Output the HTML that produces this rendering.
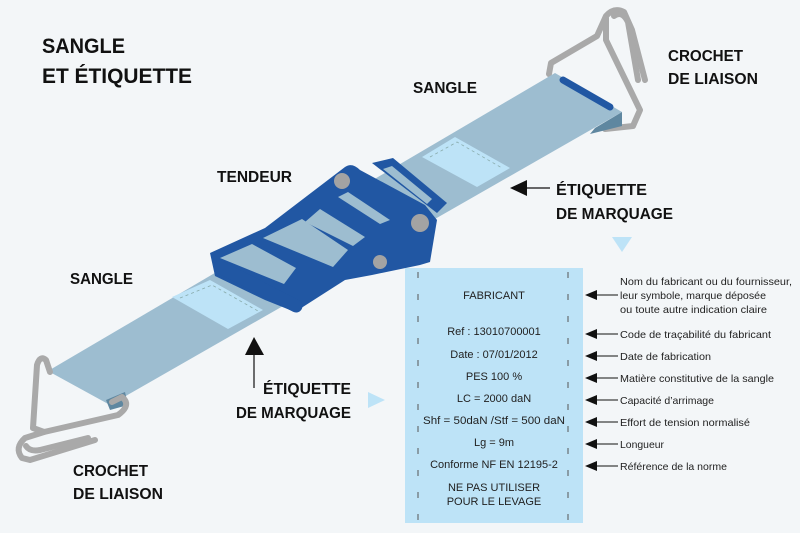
<!DOCTYPE html>
<html><head><meta charset="utf-8"><style>
html,body{margin:0;padding:0;background:#f3f6f8;}
svg{display:block;}
text{font-family:"Liberation Sans",sans-serif;}
.b{font-weight:bold;fill:#111;}
.t{font-size:11px;fill:#222;}
.d{font-size:10.5px;fill:#222;}
</style></head><body>
<svg width="800" height="533" viewBox="0 0 800 533" xmlns="http://www.w3.org/2000/svg">
<rect width="800" height="533" fill="#f3f6f8"/>
<text class="b" x="42" y="53" font-size="21" textLength="83" lengthAdjust="spacingAndGlyphs">SANGLE</text>
<text class="b" x="42" y="83" font-size="21" textLength="150" lengthAdjust="spacingAndGlyphs">ET ÉTIQUETTE</text>

<!-- right hook -->
<g fill="none" stroke="#a9a9a9" stroke-width="6" stroke-linecap="round" stroke-linejoin="round">
<path d="M549,74 L551,63 L597,36 L606,16 Q614,7 624,12 L632,30 L645,80"/>
<path d="M614,16 Q622,10 628,22 L638,80"/>
<path d="M606,18 L606,40 L640,110 L633,126 L605,129"/>
</g>
<!-- strap -->
<polygon points="48,371 555,73 622,112 110,405" fill="#9dbdd0"/>
<polygon points="595,128 622,112 622,126 590,134" fill="#5f87a0"/>
<polygon points="106,400 125,392 128,405 110,410" fill="#5f87a0"/>
<line x1="563" y1="80" x2="610" y2="107" stroke="#2157a3" stroke-width="7" stroke-linecap="round"/>
<polygon points="422,157 455,137 510,168 477,187" fill="#bde3f7"/>
<polyline points="430,157 457,142 502,168" fill="none" stroke="#8aa" stroke-width="0.8" stroke-dasharray="3,3"/>
<polygon points="172,297 210,280 263,310 228,329" fill="#bde3f7"/>
<polyline points="180,298 212,285 258,311" fill="none" stroke="#8aa" stroke-width="0.8" stroke-dasharray="3,3"/>
<!-- left hook -->
<g fill="none" stroke="#a9a9a9" stroke-width="6" stroke-linecap="round" stroke-linejoin="round">
<path d="M50,372 L46,360 Q40,355 37,365 L33,428 L44,432 L118,415 Q132,405 122,397 L112,402"/>
<path d="M44,432 L25,438 Q14,448 22,458 L30,460 L95,440"/>
<path d="M26,446 Q30,452 40,450 L88,438"/>
</g>
<!-- buckle -->
<polygon points="372,163 393,158 447,203 437,213" fill="#2157a3"/>
<polygon points="383,169 392,166 432,199 427,204" fill="#9dbdd0"/>
<path d="M210,253 L265,228 L345,167 Q352,162 360,170 L425,205 L437,220 L430,262 L420,265 L372,275 L345,280 L295,312 L265,300 L215,276 Z" fill="#2157a3"/>
<polygon points="338,197 348,192 390,220 380,224" fill="#9dbdd0"/>
<polygon points="305,222 320,209 365,237 353,246" fill="#9dbdd0"/>
<polygon points="263,238 302,219 348,250 333,267" fill="#9dbdd0"/>
<polygon points="220,258 252,244 296,268 284,284" fill="#9dbdd0"/>
<line x1="220" y1="267" x2="296" y2="306" stroke="#2157a3" stroke-width="13" stroke-linecap="round"/>
<circle cx="342" cy="181" r="8" fill="#a3a3a3"/>
<circle cx="420" cy="223" r="9" fill="#a3a3a3"/>
<circle cx="380" cy="262" r="7" fill="#a3a3a3"/>

<text class="b" x="413" y="93" font-size="16" textLength="64" lengthAdjust="spacingAndGlyphs">SANGLE</text>
<text class="b" x="217" y="182" font-size="16" textLength="75" lengthAdjust="spacingAndGlyphs">TENDEUR</text>
<text class="b" x="70" y="284" font-size="16" textLength="63" lengthAdjust="spacingAndGlyphs">SANGLE</text>
<text class="b" x="668" y="61" font-size="16" textLength="75" lengthAdjust="spacingAndGlyphs">CROCHET</text>
<text class="b" x="668" y="84" font-size="16" textLength="90" lengthAdjust="spacingAndGlyphs">DE LIAISON</text>
<text class="b" x="73" y="476" font-size="16" textLength="75" lengthAdjust="spacingAndGlyphs">CROCHET</text>
<text class="b" x="73" y="499" font-size="16" textLength="90" lengthAdjust="spacingAndGlyphs">DE LIAISON</text>
<text class="b" x="556" y="195" font-size="16" textLength="91" lengthAdjust="spacingAndGlyphs">ÉTIQUETTE</text>
<text class="b" x="556" y="219" font-size="16" textLength="117" lengthAdjust="spacingAndGlyphs">DE MARQUAGE</text>
<text class="b" x="263" y="394" font-size="16" textLength="88" lengthAdjust="spacingAndGlyphs">ÉTIQUETTE</text>
<text class="b" x="236" y="418" font-size="16" textLength="115" lengthAdjust="spacingAndGlyphs">DE MARQUAGE</text>
<polygon points="510,188 527,180 527,196" fill="#111"/>
<line x1="527" y1="188" x2="550" y2="188" stroke="#111" stroke-width="1.2"/>
<polygon points="254,337 245,355 264,355" fill="#111"/>
<line x1="254" y1="355" x2="254" y2="388" stroke="#111" stroke-width="1.2"/>
<polygon points="612,237 632,237 622,252" fill="#bde3f7"/>
<polygon points="368,392 368,408 385,400" fill="#bde3f7"/>

<rect x="405" y="268" width="178" height="255" fill="#bde3f7"/>
<line x1="418" y1="272" x2="418" y2="523" stroke="#555" stroke-width="1" stroke-dasharray="6,16"/>
<line x1="568" y1="272" x2="568" y2="523" stroke="#555" stroke-width="1" stroke-dasharray="6,16"/>
<g text-anchor="middle">
<text class="t" x="494" y="299">FABRICANT</text>
<text class="t" x="494" y="335">Ref : 13010700001</text>
<text class="t" x="494" y="358">Date : 07/01/2012</text>
<text class="t" x="494" y="380">PES 100 %</text>
<text class="t" x="494" y="402">LC = 2000 daN</text>
<text class="t" x="494" y="424" textLength="142" lengthAdjust="spacingAndGlyphs">Shf = 50daN /Stf = 500 daN</text>
<text class="t" x="494" y="446">Lg = 9m</text>
<text class="t" x="494" y="468">Conforme NF EN 12195-2</text>
<text class="t" x="494" y="491">NE PAS UTILISER</text>
<text class="t" x="494" y="505">POUR LE LEVAGE</text>
</g>
<g>
<polygon points="585,295 597,290 597,300" fill="#111"/><line x1="597" y1="295" x2="618" y2="295" stroke="#111"/>
<polygon points="585,334 597,329 597,339" fill="#111"/><line x1="597" y1="334" x2="618" y2="334" stroke="#111"/>
<polygon points="585,356 597,351 597,361" fill="#111"/><line x1="597" y1="356" x2="618" y2="356" stroke="#111"/>
<polygon points="585,378 597,373 597,383" fill="#111"/><line x1="597" y1="378" x2="618" y2="378" stroke="#111"/>
<polygon points="585,400 597,395 597,405" fill="#111"/><line x1="597" y1="400" x2="618" y2="400" stroke="#111"/>
<polygon points="585,422 597,417 597,427" fill="#111"/><line x1="597" y1="422" x2="618" y2="422" stroke="#111"/>
<polygon points="585,444 597,439 597,449" fill="#111"/><line x1="597" y1="444" x2="618" y2="444" stroke="#111"/>
<polygon points="585,466 597,461 597,471" fill="#111"/><line x1="597" y1="466" x2="618" y2="466" stroke="#111"/>
</g>
<text class="d" x="620" y="285" textLength="172" lengthAdjust="spacingAndGlyphs">Nom du fabricant ou du fournisseur,</text>
<text class="d" x="620" y="299" textLength="146" lengthAdjust="spacingAndGlyphs">leur symbole, marque déposée</text>
<text class="d" x="620" y="313" textLength="147" lengthAdjust="spacingAndGlyphs">ou toute autre indication claire</text>
<text class="d" x="620" y="338" textLength="151" lengthAdjust="spacingAndGlyphs">Code de traçabilité du fabricant</text>
<text class="d" x="620" y="360" textLength="91" lengthAdjust="spacingAndGlyphs">Date de fabrication</text>
<text class="d" x="620" y="382" textLength="154" lengthAdjust="spacingAndGlyphs">Matière constitutive de la sangle</text>
<text class="d" x="620" y="404" textLength="94" lengthAdjust="spacingAndGlyphs">Capacité d’arrimage</text>
<text class="d" x="620" y="426" textLength="130" lengthAdjust="spacingAndGlyphs">Effort de tension normalisé</text>
<text class="d" x="620" y="448" textLength="44" lengthAdjust="spacingAndGlyphs">Longueur</text>
<text class="d" x="620" y="470" textLength="107" lengthAdjust="spacingAndGlyphs">Référence de la norme</text>
</svg>
</body></html>
